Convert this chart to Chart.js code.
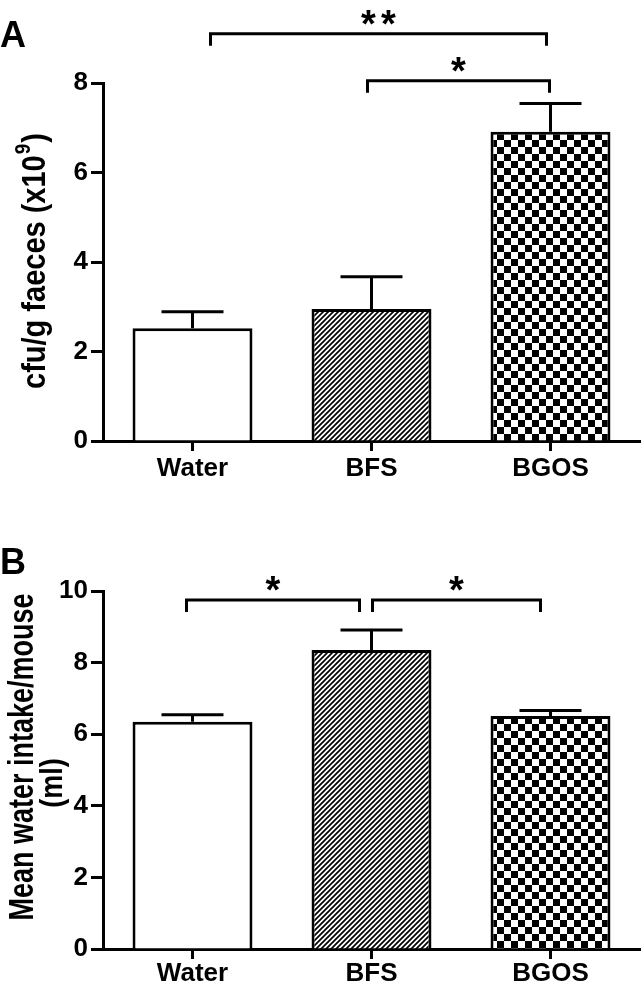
<!DOCTYPE html>
<html>
<head>
<meta charset="utf-8">
<title>Bacterial counts and water intake</title>
<script src="https://cdn.jsdelivr.net/npm/chart.js@4.4.1/dist/chart.umd.min.js"></script>
<style>
    body { margin: 0; background: #fff; }
    .panel { position: absolute; left: 0; width: 643px; }
    #panelA { top: 0; height: 500px; }
    #panelB { top: 500px; height: 493px; }
</style>
</head>
<body>
<div class="panel" id="panelA"><canvas id="chartA" width="643" height="500"></canvas></div>
<div class="panel" id="panelB"><canvas id="chartB" width="643" height="493"></canvas></div>
<script>
// Data
var categories = ['Water', 'BFS', 'BGOS'];

// Panel A: cfu/g faeces (x10^9), mean and SEM
var cfuMeans = [2.52, 2.95, 6.91];
var cfuSem = [0.37, 0.72, 0.63];
var cfuTicks = [0, 2, 4, 6, 8];

// Panel B: mean water intake per mouse (ml), mean and SEM
var intakeMeans = [6.35, 8.35, 6.51];
var intakeSem = [0.19, 0.56, 0.15];
var intakeTicks = [0, 2, 4, 6, 8, 10];

// Significance brackets: from/to category index, height in axis units, label
var cfuBrackets = [
    { from: 0, to: 2, level: 9.1, label: '**' },
    { from: 1, to: 2, level: 8.05, label: '*' }
];
var intakeBrackets = [
    { from: 0, to: 1, level: 9.75, label: '*' },
    { from: 1, to: 2, level: 9.75, label: '*' }
];

var FONT = '"Liberation Sans", Arial, Helvetica, sans-serif';

// Fill patterns for the bars
function makeHatch() {
    var c = document.createElement('canvas');
    c.width = 5; c.height = 5;
    var g = c.getContext('2d');
    g.fillStyle = '#fff';
    g.fillRect(0, 0, 5, 5);
    g.strokeStyle = '#000';
    g.lineWidth = 1.7;
    g.beginPath();
    g.moveTo(-1, 6); g.lineTo(6, -1);
    g.moveTo(-1, 1); g.lineTo(1, -1);
    g.moveTo(4, 6); g.lineTo(6, 4);
    g.stroke();
    return g.createPattern(c, 'repeat');
}

function makeChecker() {
    var c = document.createElement('canvas');
    c.width = 14; c.height = 14;
    var g = c.getContext('2d');
    g.fillStyle = '#fff';
    g.fillRect(0, 0, 14, 14);
    g.fillStyle = '#000';
    g.fillRect(0, 0, 7, 7);
    g.fillRect(7, 7, 7, 7);
    return g.createPattern(c, 'repeat');
}

// Error bars, brackets, panel letter and y title
function extrasPlugin(means, sems, brackets, offsets, letter, letterY, drawTitle) {
    return {
        id: 'extras',
        afterDatasetsDraw: function(chart) {
            var ctx = chart.ctx;
            var xs = chart.scales.x;
            var ys = chart.scales.y;
            var meta = chart.getDatasetMeta(0);
            ctx.save();
            ctx.strokeStyle = '#000';
            ctx.fillStyle = '#000';
            ctx.lineWidth = 3;

            // SEM whiskers (upper only)
            meta.data.forEach(function(bar, i) {
                var top = ys.getPixelForValue(means[i] + sems[i]);
                ctx.beginPath();
                ctx.moveTo(bar.x, bar.y);
                ctx.lineTo(bar.x, top);
                ctx.moveTo(bar.x - 31, top);
                ctx.lineTo(bar.x + 31, top);
                ctx.stroke();
            });

            // brackets with star labels
            brackets.forEach(function(b, k) {
                var x1 = xs.getPixelForValue(b.from) + offsets[k][0];
                var x2 = xs.getPixelForValue(b.to) + offsets[k][1];
                var yl = ys.getPixelForValue(b.level);
                ctx.beginPath();
                ctx.moveTo(x1, yl + 12);
                ctx.lineTo(x1, yl);
                ctx.lineTo(x2, yl);
                ctx.lineTo(x2, yl + 12);
                ctx.stroke();
                ctx.font = 'bold 38px ' + FONT;
                ctx.textAlign = 'center';
                ctx.textBaseline = 'alphabetic';
                var n = b.label.length;
                var mid = (x1 + x2) / 2;
                for (var s = 0; s < n; s++) {
                    ctx.fillText(b.label[s], mid + (s - (n - 1) / 2) * 20, yl + 3);
                }
            });

            // panel letter
            ctx.font = 'bold 36px ' + FONT;
            ctx.textAlign = 'left';
            ctx.textBaseline = 'alphabetic';
            ctx.fillText(letter, 0, letterY);

            drawTitle(ctx, chart.chartArea);
            ctx.restore();
        }
    };
}

function titleA(ctx, area) {
    var cy = (area.top + area.bottom) / 2;
    var main = 'cfu/g faeces (x10';
    ctx.font = 'bold 29px ' + FONT;
    var w1 = ctx.measureText(main).width;
    var w3 = ctx.measureText(')').width;
    ctx.font = 'bold 19px ' + FONT;
    var w2 = ctx.measureText('9').width;
    var total = w1 + w2 + w3;
    ctx.save();
    ctx.translate(45, cy);
    ctx.rotate(-Math.PI / 2);
    ctx.scale(1, 1.14);
    ctx.textAlign = 'left';
    ctx.textBaseline = 'alphabetic';
    var x0 = -total / 2;
    ctx.font = 'bold 29px ' + FONT;
    ctx.fillText(main, x0, 0);
    ctx.font = 'bold 19px ' + FONT;
    ctx.fillText('9', x0 + w1 + 1, -13);
    ctx.font = 'bold 29px ' + FONT;
    ctx.fillText(')', x0 + w1 + w2 + 2, 0);
    ctx.restore();
}

function titleB(ctx, area) {
    var cy = (area.top + area.bottom) / 2;
    ctx.save();
    ctx.font = 'bold 27px ' + FONT;
    ctx.textAlign = 'center';
    ctx.textBaseline = 'alphabetic';
    ctx.save();
    ctx.translate(33, cy - 13);
    ctx.rotate(-Math.PI / 2);
    ctx.scale(1, 1.32);
    ctx.fillText('Mean water intake/mouse', 0, 0);
    ctx.restore();
    ctx.save();
    ctx.translate(62, cy + 13);
    ctx.rotate(-Math.PI / 2);
    ctx.scale(1, 1.15);
    ctx.fillText('(ml)', 0, 0);
    ctx.restore();
    ctx.restore();
}

function buildChart(canvasId, means, ticks, yMax, padTop, xHeight, labelPad, plugin) {
    var ctx = document.getElementById(canvasId).getContext('2d');
    return new Chart(ctx, {
        type: 'bar',
        data: {
            labels: categories,
            datasets: [{
                data: means,
                backgroundColor: ['#ffffff', makeHatch(), makeChecker()],
                borderColor: '#000',
                borderWidth: 3,
                barPercentage: 0.67,
                categoryPercentage: 1.0
            }]
        },
        options: {
            responsive: false,
            animation: false,
            devicePixelRatio: 1,
            layout: { padding: { top: padTop, right: 3, left: 0, bottom: 0 } },
            plugins: {
                legend: { display: false },
                tooltip: { enabled: false }
            },
            scales: {
                x: {
                    offset: true,
                    grid: {
                        offset: false,
                        drawOnChartArea: false,
                        drawTicks: true,
                        tickLength: 10,
                        tickWidth: 3,
                        tickColor: '#000'
                    },
                    border: { display: true, color: '#000', width: 3 },
                    ticks: {
                        color: '#000',
                        padding: labelPad,
                        font: { family: FONT, size: 26, weight: 'bold' }
                    },
                    afterFit: function(scale) { scale.height = xHeight; }
                },
                y: {
                    min: 0,
                    max: yMax,
                    afterBuildTicks: function(scale) {
                        scale.ticks = ticks.map(function(v) { return { value: v }; });
                    },
                    grid: {
                        drawOnChartArea: false,
                        drawTicks: true,
                        tickLength: 12,
                        tickWidth: 3,
                        tickColor: '#000'
                    },
                    border: { display: true, color: '#000', width: 3 },
                    ticks: {
                        color: '#000',
                        padding: 3,
                        font: { family: FONT, size: 26, weight: 'bold' }
                    },
                    afterFit: function(scale) { scale.width = 103; }
                }
            }
        },
        plugins: [plugin]
    });
}

window.onload = function() {
    buildChart('chartA', cfuMeans, cfuTicks, 8, 83, 59, 2,
        extrasPlugin(cfuMeans, cfuSem, cfuBrackets, [[18, -4], [-4, -1]], 'A', 47, titleA));
    buildChart('chartB', intakeMeans, intakeTicks, 10, 91, 44, -1,
        extrasPlugin(intakeMeans, intakeSem, intakeBrackets, [[-6, -12], [1, -10]], 'B', 74, titleB));
};
</script>
</body>
</html>
